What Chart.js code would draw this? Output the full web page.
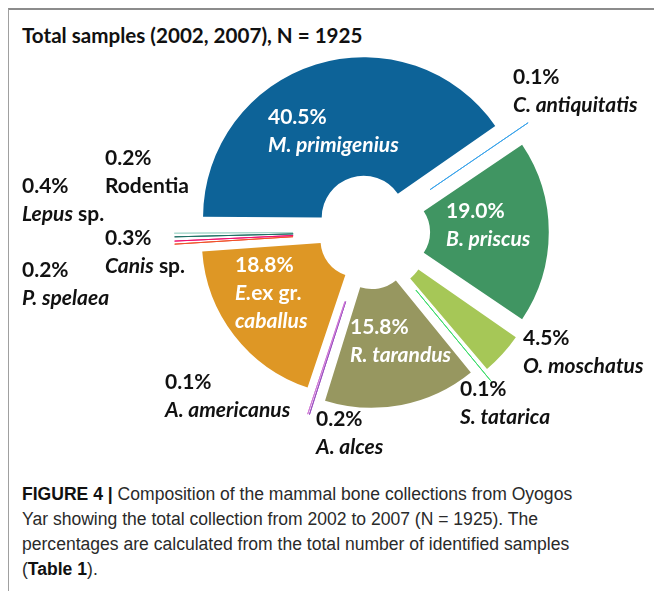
<!DOCTYPE html>
<html><head><meta charset="utf-8">
<script src="https://cdn.jsdelivr.net/npm/chart.js@4.4.0/dist/chart.umd.min.js"></script>
<style>
html,body{margin:0;padding:0;background:#fff;}
body{width:654px;height:591px;position:relative;overflow:hidden;font-family:Lato,"Open Sans",sans-serif;}
#frame{position:absolute;left:8px;top:8px;right:0;bottom:0;border-top:2px solid #8c8c8c;border-left:1px solid #a0a0a0;}
#title{position:absolute;left:22px;top:23px;font-weight:bold;font-size:20.6px;color:#111;white-space:nowrap;}
#wrap{position:absolute;left:0;top:0;width:654px;height:470px;}
#caption{position:absolute;left:22px;top:482px;font-family:"Liberation Sans Narrow","Liberation Sans",sans-serif;font-size:18px;line-height:25px;color:#2a2a2a;white-space:nowrap;transform:scaleX(0.975);transform-origin:0 0;}
#caption b{color:#111;}
</style></head>
<body>
<div id="frame"></div>
<div id="title">Total samples (2002, 2007), N = 1925</div>
<div id="wrap"><canvas id="c"></canvas></div>
<div id="caption"><b>FIGURE 4 |</b> Composition of the mammal bone collections from Oyogos<br>Yar showing the total collection from 2002 to 2007 (N = 1925). The<br>percentages are calculated from the total number of identified samples<br>(<b>Table 1</b>).</div>
<script>
// ---- data ----
const species = ['M. primigenius','C. antiquitatis','B. priscus','O. moschatus','S. tatarica','R. tarandus','A. alces','A. americanus','E.ex gr. caballus','P. spelaea','Canis sp.','Lepus sp.','Rodentia'];
const percents = [40.5, 0.1, 19.0, 4.5, 0.1, 15.8, 0.2, 0.1, 18.8, 0.2, 0.3, 0.4, 0.2];

// ---- style ----
const sliceColors = ['#0d6398','#3aa3ea','#409562','#a6c757','#3ddc6a','#979760','#9b4fc0','#d07ad6','#de9725','#f0502a','#ee1070','#1d6e63','#a8d8cc'];
const sliceOffsets = [60, 80, 100, 64, 80, 76, 76, 76, 56, 80, 80, 80, 80];
const insideLabel = [true,false,true,false,false,true,false,false,true,false,false,false,false];
// label anchor (left, middle of first line) relative to pie centre
const labelPos = [[-100,-115],[145,-155],[78,-21],[155,106],[92,157],[-18,95],[-52,187],[-203,150],[-133,33],[-346,38],[-263,6],[-346,-46],[-263,-74]];

function nameLines(name){
  if (name === 'E.ex gr. caballus') return [[['E.',true],['ex gr.',false]],[['caballus',true]]];
  if (name === 'Rodentia') return [[[name,false]]];
  if (name.endsWith(' sp.')) return [[[name.slice(0,-4),true],[' sp.',false]]];
  return [[[name,true]]];
}

const labelPlugin = {
  id:'sliceLabels',
  afterDraw(chart){
    const ctx = chart.ctx;
    const arc = chart.getDatasetMeta(0).data[0];
    const cx = arc.x, cy = arc.y;
    ctx.save();
    ctx.textBaseline = 'middle';
    ctx.textAlign = 'left';
    species.forEach((name,i)=>{
      const [dx,dy] = labelPos[i];
      const x0 = cx+dx; let y = cy+dy;
      ctx.fillStyle = insideLabel[i] ? '#ffffff' : '#111111';
      const lines = [[[percents[i].toFixed(1)+'%',false]]].concat(nameLines(name));
      lines.forEach(line=>{
        let x = x0;
        line.forEach(([t,it])=>{
          ctx.font = (it?'italic ':'')+'bold 21px Lato';
          ctx.fillText(t,x,y);
          x += ctx.measureText(t).width;
        });
        y += 28;
      });
    });
    ctx.restore();
  }
};

new Chart(document.getElementById('c'),{
  type:'doughnut',
  data:{labels:species,datasets:[{
    data:percents,
    backgroundColor:sliceColors,
    borderColor:(c)=> percents[c.dataIndex] < 1 ? sliceColors[c.dataIndex] : 'rgba(0,0,0,0)',
    borderWidth:(c)=> percents[c.dataIndex] < 1 ? 1 : 0,
    offset:(c)=> sliceOffsets[c.dataIndex],
    hoverOffset:0
  }]},
  options:{
    responsive:true, maintainAspectRatio:false, animation:false, events:[],
    rotation:-90, radius:154, cutout:32,
    layout:{padding:{left:100,right:18,top:42,bottom:48}},
    plugins:{legend:{display:false},tooltip:{enabled:false},title:{display:false}}
  },
  plugins:[labelPlugin]
});
</script>
</body></html>
